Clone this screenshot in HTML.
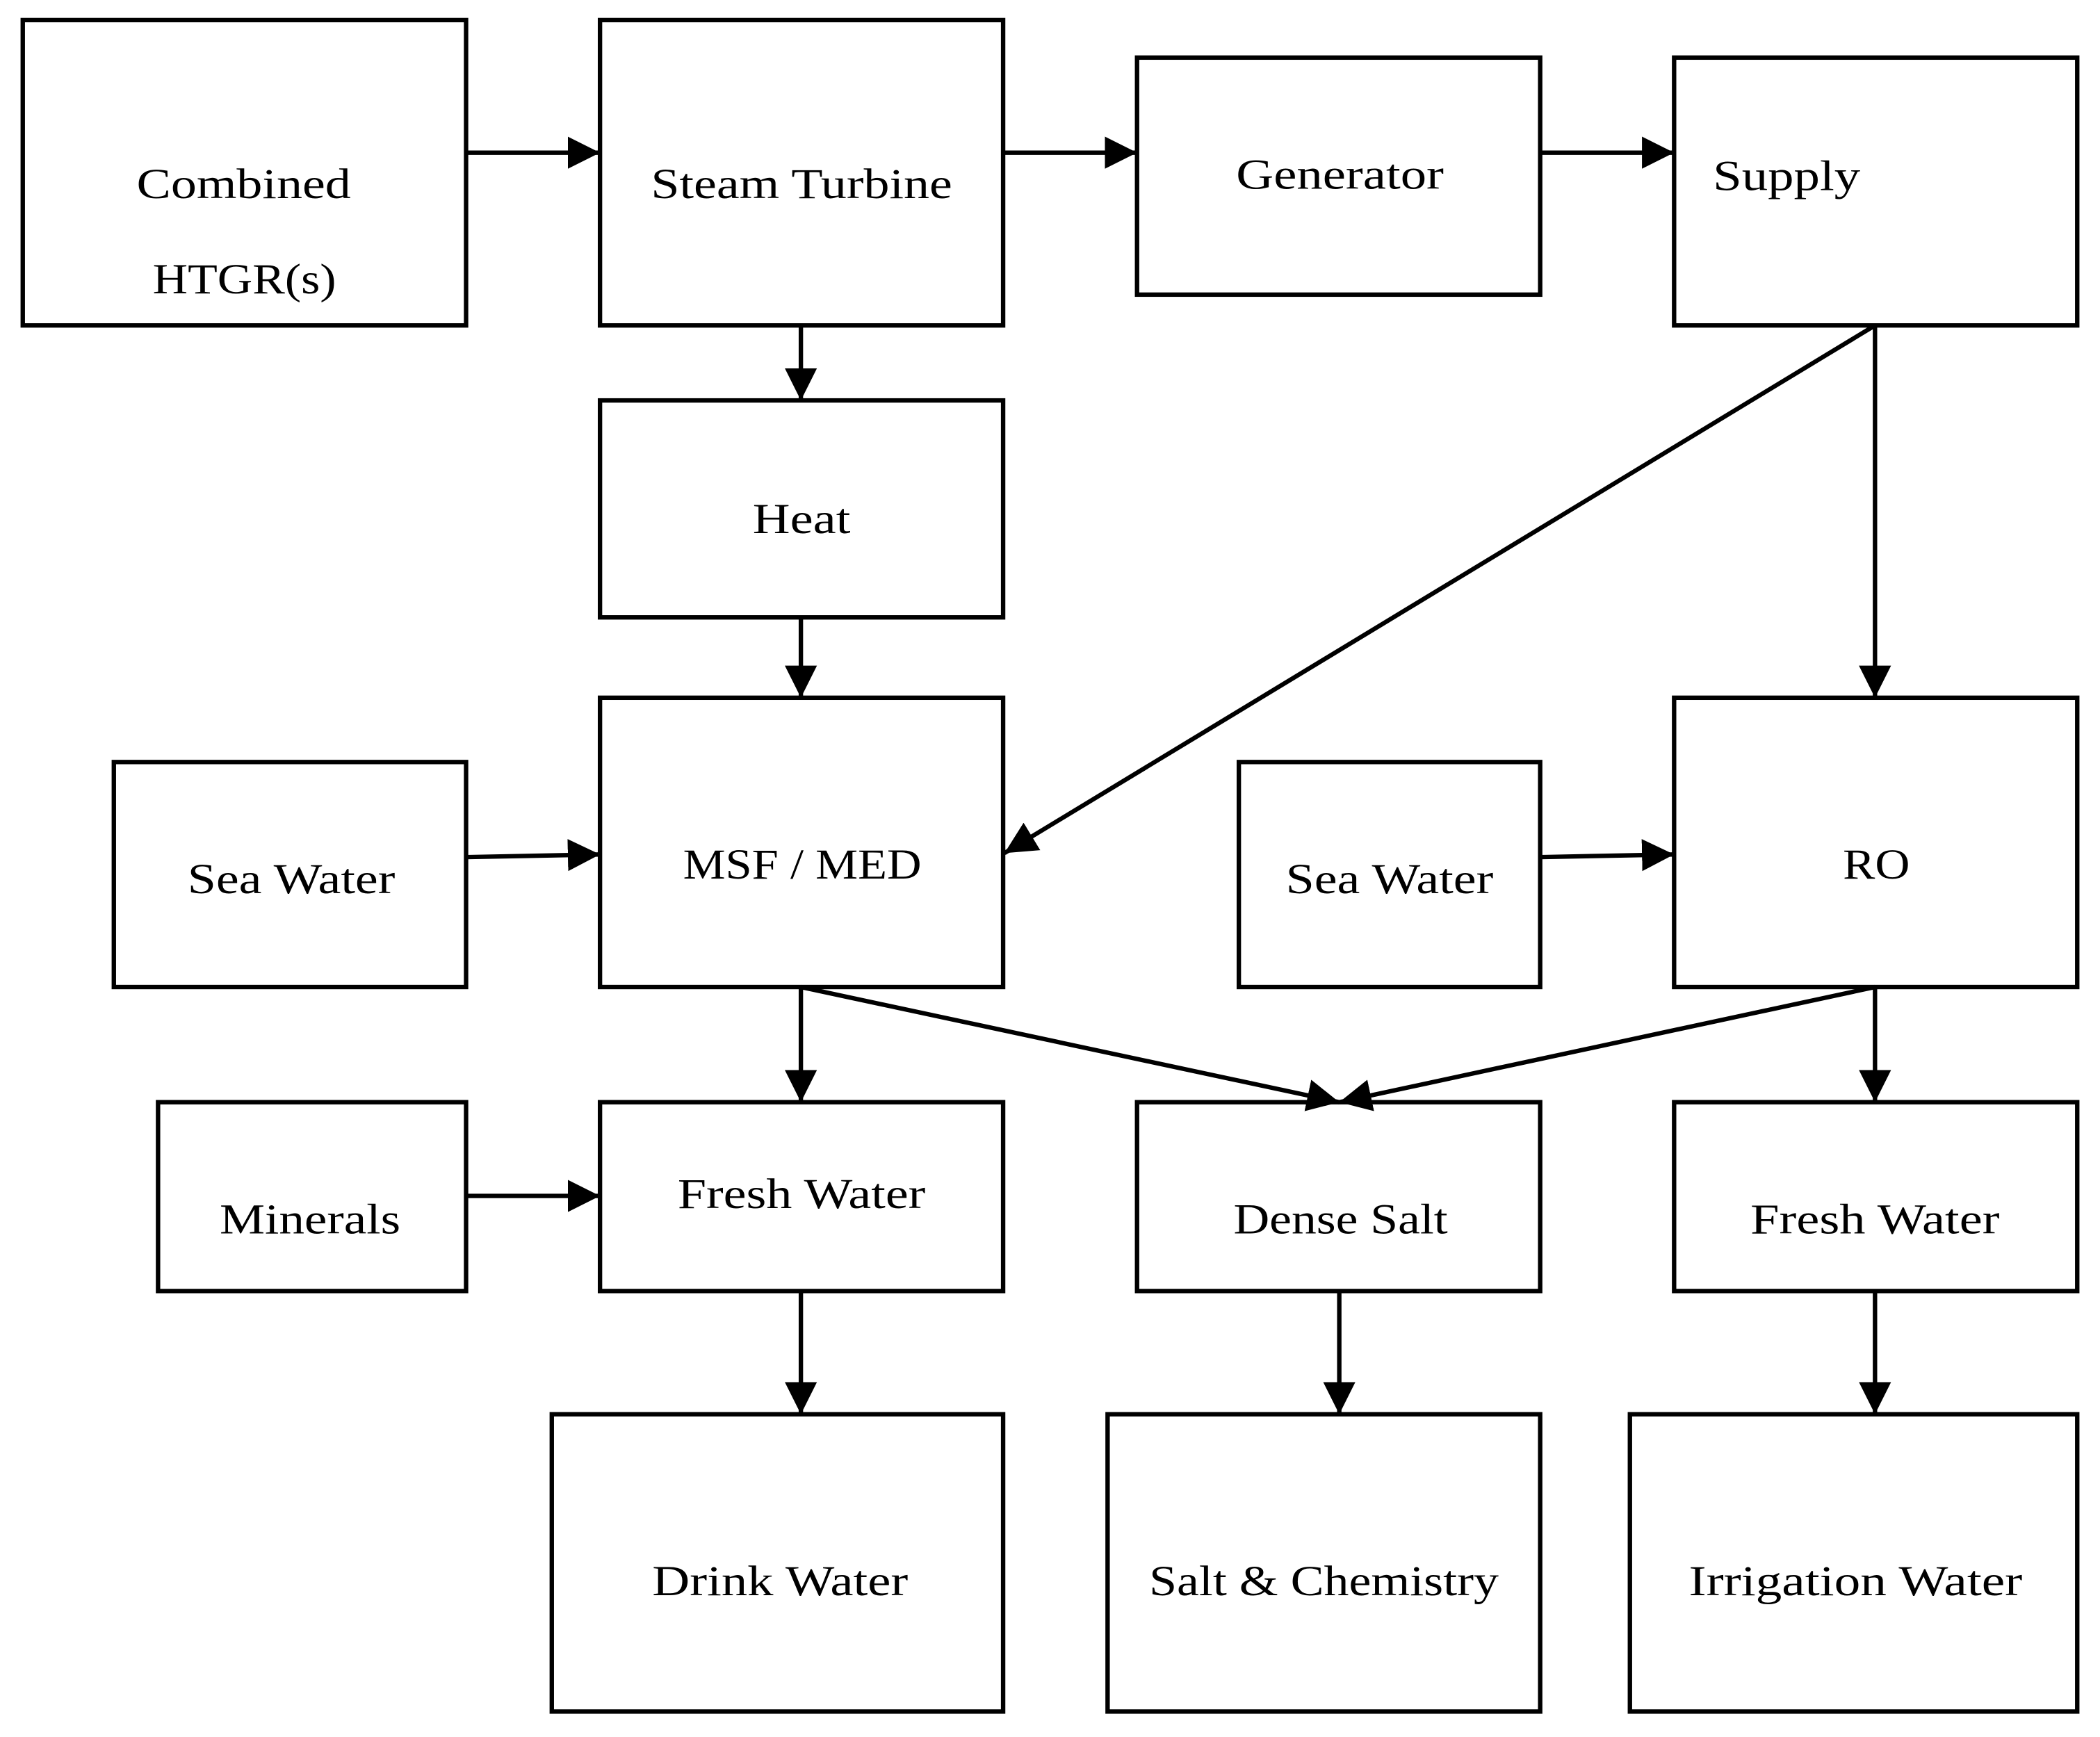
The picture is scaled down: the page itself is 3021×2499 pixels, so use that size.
<!DOCTYPE html>
<html><head><meta charset="utf-8"><style>html,body{margin:0;padding:0;background:#fff}svg{display:block}</style></head>
<body>
<svg width="3021" height="2499" viewBox="0 0 1568 1297" preserveAspectRatio="none" xmlns="http://www.w3.org/2000/svg">
<defs>
<marker id="a" viewBox="0 0 24 24" refX="24" refY="12" markerWidth="24" markerHeight="24" markerUnits="userSpaceOnUse" orient="auto">
<path d="M0,0 L24,12 L0,24 Z" fill="#000"/>
</marker>
</defs>
<g fill="#fff" stroke="#000" stroke-width="3.3">
<rect x="17" y="15" width="331" height="228"/>
<rect x="448" y="15" width="301" height="228"/>
<rect x="849" y="43" width="301" height="177"/>
<rect x="1250" y="43" width="301" height="200"/>
<rect x="448" y="299" width="301" height="162"/>
<rect x="448" y="521" width="301" height="216"/>
<rect x="85" y="569" width="263" height="168"/>
<rect x="925" y="569" width="225" height="168"/>
<rect x="1250" y="521" width="301" height="216"/>
<rect x="118" y="823" width="230" height="141"/>
<rect x="448" y="823" width="301" height="141"/>
<rect x="849" y="823" width="301" height="141"/>
<rect x="1250" y="823" width="301" height="141"/>
<rect x="412" y="1056" width="337" height="222"/>
<rect x="827" y="1056" width="323" height="222"/>
<rect x="1217" y="1056" width="334" height="222"/>
</g>
<g stroke="#000" stroke-width="3.3" fill="none" marker-end="url(#a)">
<line x1="348" y1="114" x2="448" y2="114"/>
<line x1="749" y1="114" x2="849" y2="114"/>
<line x1="1150" y1="114" x2="1250" y2="114"/>
<line x1="598" y1="243" x2="598" y2="299"/>
<line x1="598" y1="461" x2="598" y2="521"/>
<line x1="1400" y1="243" x2="1400" y2="521"/>
<line x1="1400" y1="243" x2="750" y2="637"/>
<line x1="348" y1="640" x2="448" y2="638"/>
<line x1="1150" y1="640" x2="1250" y2="638"/>
<line x1="598" y1="737" x2="598" y2="823"/>
<line x1="598" y1="737" x2="1000" y2="823"/>
<line x1="1400" y1="737" x2="1000" y2="823"/>
<line x1="1400" y1="737" x2="1400" y2="823"/>
<line x1="348" y1="893" x2="448" y2="893"/>
<line x1="598" y1="964" x2="598" y2="1056"/>
<line x1="1000" y1="964" x2="1000" y2="1056"/>
<line x1="1400" y1="964" x2="1400" y2="1056"/>
</g>
<g font-family="'Liberation Serif', serif" font-size="32" fill="#000" lengthAdjust="spacingAndGlyphs">
<text x="102" y="148" textLength="160" lengthAdjust="spacingAndGlyphs">Combined</text>
<text x="114" y="219" textLength="137" lengthAdjust="spacingAndGlyphs">HTGR(s)</text>
<text x="486" y="148" textLength="225" lengthAdjust="spacingAndGlyphs">Steam Turbine</text>
<text x="923" y="141" textLength="155" lengthAdjust="spacingAndGlyphs">Generator</text>
<text x="1279" y="142" textLength="110" lengthAdjust="spacingAndGlyphs">Supply</text>
<text x="562" y="398" textLength="73" lengthAdjust="spacingAndGlyphs">Heat</text>
<text x="510" y="656" textLength="178" lengthAdjust="spacingAndGlyphs">MSF / MED</text>
<text x="140" y="667" textLength="155" lengthAdjust="spacingAndGlyphs">Sea Water</text>
<text x="960" y="667" textLength="155" lengthAdjust="spacingAndGlyphs">Sea Water</text>
<text x="1376" y="656" textLength="50" lengthAdjust="spacingAndGlyphs">RO</text>
<text x="164" y="921" textLength="135" lengthAdjust="spacingAndGlyphs">Minerals</text>
<text x="506" y="902" textLength="185" lengthAdjust="spacingAndGlyphs">Fresh Water</text>
<text x="921" y="921" textLength="160" lengthAdjust="spacingAndGlyphs">Dense Salt</text>
<text x="1307" y="921" textLength="186" lengthAdjust="spacingAndGlyphs">Fresh Water</text>
<text x="487" y="1191" textLength="191" lengthAdjust="spacingAndGlyphs">Drink Water</text>
<text x="858" y="1191" textLength="261" lengthAdjust="spacingAndGlyphs">Salt &amp; Chemistry</text>
<text x="1261" y="1191" textLength="249" lengthAdjust="spacingAndGlyphs">Irrigation Water</text>
</g>
</svg>
</body></html>
